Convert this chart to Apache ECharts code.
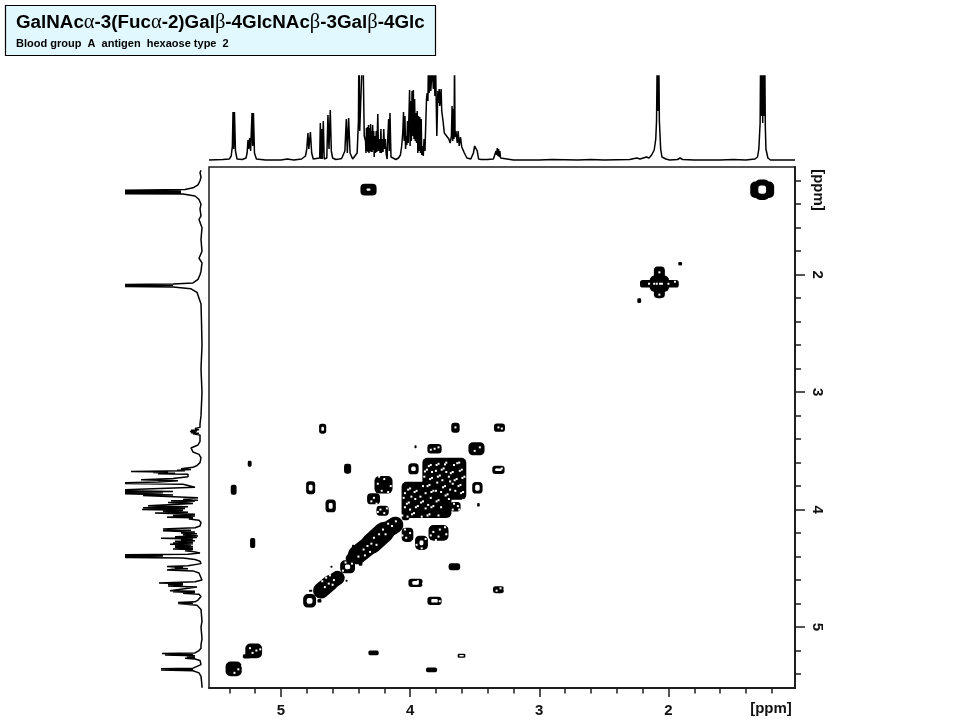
<!DOCTYPE html>
<html>
<head>
<meta charset="utf-8">
<style>html,body{margin:0;padding:0;background:#fff}#c{width:960px;height:720px}</style>
<script src="https://cdn.jsdelivr.net/npm/echarts@6/dist/echarts.min.js"></script>
</head>
<body>
<div id="c"></div>
<script>
const titleParts = ['GalNAc','α','-3(Fuc','α','-2)Gal','β','-4GlcNAc','β','-3Gal','β','-4Glc'];
const subtitleText = 'Blood group  A  antigen  hexaose type  2';
const unitLabel = '[ppm]';

// axis ranges (ppm)
const f2Range = [1.02, 5.557];
const f1Range = [1.083, 5.519];
const f2MajorTicks = [5, 4, 3, 2];
const f2MinorTicks = [5.4,5.2,4.8,4.6,4.4,4.2,3.8,3.6,3.4,3.2,2.8,2.6,2.4,2.2,1.8,1.6,1.4,1.2];
const f1MajorTicks = [2, 3, 4, 5];
const f1MinorTicks = [1.2,1.4,1.6,1.8,2.2,2.4,2.6,2.8,3.2,3.4,3.6,3.8,4.2,4.4,4.6,4.8,5.2,5.4];

// F2 projection: [ppm, intensity]
const topSpectrum = [
[5.557,1],[5.45,1.5],[5.40,2],[5.385,5],[5.376,15],[5.371,49],[5.366,12],[5.360,49],[5.352,10],[5.34,2],[5.30,1.5],[5.27,3],[5.262,8],[5.255,21],[5.250,12],[5.242,23],[5.235,10],[5.224,48],[5.219,15],[5.213,48],[5.205,8],[5.19,2],[5.12,1],[5.0,1],[4.95,2],[4.90,1],[4.84,2],[4.81,5],
[4.80,12],[4.791,28],[4.784,12],[4.772,29],[4.762,8],[4.75,2],[4.735,1.5],[4.70,3],[4.695,38],[4.69,2],[4.685,32],[4.68,2],[4.672,40],[4.665,2],[4.655,1],[4.645,3],[4.636,46],[4.628,12],[4.618,51],[4.61,10],[4.60,3],[4.575,1.5],[4.55,2],[4.53,2.5],
[4.505,10],[4.494,42],[4.486,8],[4.476,43],[4.465,8],[4.445,2],[4.43,1.5],[4.41,8],[4.40,40],[4.396,120],[4.39,30],[4.38,30],[4.366,120],[4.355,25],
[4.345,20],[4.342,8],[4.338,33],[4.334,10],[4.330,34],[4.326,9],[4.322,36],[4.318,8],[4.314,33],[4.310,10],[4.306,37],[4.302,9],[4.298,30],[4.294,9],[4.290,36],[4.286,11],[4.282,30],[4.278,4],[4.274,25],[4.268,8],[4.262,30],[4.258,9],[4.250,47],[4.245,10],[4.238,22],[4.232,8],[4.226,32],[4.222,8],[4.216,22],[4.21,9],[4.204,32],[4.198,12],[4.192,22],[4.185,7],[4.178,2],
[4.174,20],[4.166,42],[4.161,10],[4.156,48],[4.148,4],[4.135,2],[4.11,1.5],[4.09,3],[4.075,6],[4.065,15],[4.056,30],[4.051,49],[4.046,20],[4.04,45],[4.035,12],[4.03,25],[4.025,16],[4.02,40],[4.015,18],[4.008,50],[4.004,71],[4.0,15],[3.995,60],[3.99,20],[3.985,70],[3.98,25],[3.975,71],[3.97,22],[3.965,62],[3.96,20],[3.955,48],[3.95,18],[3.945,50],[3.94,8],[3.935,45],[3.93,10],[3.925,44],[3.92,8],[3.914,42],[3.91,6],[3.905,15],[3.898,5],
[3.892,22],[3.885,10],[3.878,40],[3.873,62],[3.868,68],[3.862,60],[3.858,100],[3.852,68],[3.847,100],[3.84,70],[3.835,80],[3.83,100],[3.82,72],[3.813,100],[3.808,65],[3.803,100],[3.798,60],[3.793,25],[3.785,70],[3.78,58],[3.775,72],[3.77,55],[3.76,72],[3.755,50],[3.745,40],[3.735,28],[3.70,22],[3.69,18],[3.68,25],[3.675,55],[3.670,20],[3.665,52],[3.66,22],[3.656,100],[3.652,24],[3.645,30],[3.635,18],[3.628,30],[3.62,15],[3.61,24],[3.60,14],[3.59,16],[3.58,8],[3.57,6],[3.56,3],
[3.53,2],[3.52,3],[3.51,8],[3.50,15],[3.495,17],[3.488,16],[3.48,10],[3.47,2],[3.45,1.5],[3.40,1.5],[3.355,2],[3.34,3],[3.335,10],[3.33,6],[3.325,13],[3.32,5],[3.315,12],[3.31,4],[3.305,10],[3.30,3],[3.29,2],[3.2,1],[3.0,1],[2.9,1.5],[2.7,1],[2.6,1.5],[2.5,1],[2.3,1.5],[2.245,3],[2.22,2],[2.17,4],[2.15,3],[2.13,6],[2.11,11],[2.098,22],[2.092,40],[2.085,125],[2.08,50],[2.076,125],[2.07,40],[2.06,12],[2.05,4],[2.02,2],[1.99,1],[1.93,1.5],[1.91,3],[1.89,1.5],[1.8,1],[1.6,1],[1.5,1.5],[1.4,1],[1.33,2],[1.31,4],[1.30,12],[1.29,38],
[1.285,125],[1.282,45],[1.279,125],[1.276,45],[1.273,125],[1.27,38],[1.267,125],[1.264,45],[1.261,125],[1.258,45],[1.255,125],[1.25,35],[1.245,12],[1.23,3],[1.21,1],[1.1,1],[1.02,1]
];

// F1 projection: [intensity, ppm]
const leftSpectrum = [
[2,1.11],[3,1.13],[2,1.17],[3,1.2],[5,1.235],[10,1.26],[18,1.275],[20,1.28],[100,1.282],[22,1.285],[100,1.288],[22,1.291],[100,1.294],[22,1.297],[100,1.30],[22,1.303],[100,1.306],[22,1.308],[100,1.31],[20,1.312],[8,1.33],[4,1.36],[2,1.4],[3,1.44],[2,1.5],[4,1.53],[1,1.6],[2,1.7],[1,1.8],[4,1.86],[1,1.9],[2,1.97],[3,2.0],[5,2.04],[10,2.07],[30,2.08],[100,2.085],[30,2.09],[100,2.098],[30,2.105],[12,2.12],[6,2.15],[4,2.2],[2,2.25],[1.5,2.4],[1,2.6],[2,2.8],[1,3.0],[2,3.2],[3,3.27],[3,3.3],
[8,3.31],[4,3.32],[12,3.325],[6,3.33],[13,3.335],[7,3.34],[12,3.345],[4,3.35],[10,3.355],[3,3.365],[2,3.38],[3,3.42],[5,3.45],[12,3.475],[13,3.49],[10,3.51],[4,3.53],[2,3.56],[3,3.6],[6,3.625],[10,3.64],[22,3.652],[12,3.658],[26,3.665],[18,3.67],[72,3.675],[35,3.68],[50,3.685],[28,3.69],[45,3.695],[15,3.70],[15,3.72],[30,3.735],[62,3.746],[25,3.755],[45,3.765],[100,3.775],[100,3.778],[20,3.785],[22,3.797],[8,3.81],[6,3.825],[100,3.838],[30,3.845],[100,3.85],[40,3.856],[100,3.862],[100,3.866],[30,3.875],[60,3.88],[5,3.90],
[20,3.915],[5,3.92],[32,3.925],[8,3.93],[35,3.94],[10,3.948],[25,3.955],[55,3.968],[15,3.975],[60,3.985],[18,3.99],[61,4.0],[20,4.005],[40,4.015],[15,4.022],[48,4.03],[8,4.04],[30,4.05],[8,4.055],[36,4.065],[10,4.07],[14,4.08],[4,4.09],[2,4.11],[3,4.14],[8,4.155],[40,4.166],[12,4.175],[40,4.18],[8,4.19],[22,4.2],[6,4.205],[20,4.215],[5,4.225],[28,4.232],[6,4.238],[42,4.243],[10,4.25],[22,4.26],[8,4.265],[28,4.27],[10,4.278],[30,4.285],[10,4.29],[33,4.295],[12,4.30],[28,4.31],[10,4.315],[28,4.32],[10,4.33],[30,4.335],[10,4.34],[18,4.35],[8,4.36],[3,4.37],[15,4.38],[100,4.386],[40,4.395],[100,4.405],[20,4.412],[8,4.425],[3,4.44],[2,4.46],[3,4.47],[15,4.478],[36,4.485],[20,4.492],[28,4.498],[15,4.503],[30,4.508],[36,4.515],[10,4.522],[4,4.54],[2,4.58],[1,4.6],[3,4.61],[8,4.615],[44,4.625],[20,4.63],[35,4.635],[20,4.64],[35,4.65],[6,4.66],[4,4.675],[33,4.69],[8,4.695],[30,4.70],[8,4.705],[20,4.712],[4,4.72],[2,4.74],[5,4.77],[8,4.785],[25,4.79],[25,4.793],[10,4.797],[25,4.80],[25,4.805],[6,4.815],[2,4.85],[1,4.95],[2,5.0],[1,5.1],[2,5.15],[2,5.18],[4,5.20],[8,5.22],[41,5.225],[10,5.232],[38,5.237],[8,5.245],[16,5.255],[8,5.26],[18,5.265],[8,5.272],[3,5.285],[2,5.32],[4,5.335],[10,5.35],[42,5.355],[10,5.362],[42,5.365],[10,5.372],[4,5.39],[2,5.42],[1,5.5],[1,5.517]
];

// Diagonal ridge: [F2 start, F1 start, F2 end, F1 end, F1 thickness]
const diagonalRidges = [
[4.115,4.13,4.20,4.19,0.14],[4.20,4.19,4.30,4.29,0.175],[4.30,4.29,4.41,4.385,0.16],[4.41,4.385,4.46,4.415,0.085],
[4.561,4.581,4.62,4.625,0.12],[4.62,4.625,4.69,4.69,0.135]
];
// Contour extents: [F2 ppm, F1 ppm, F2 extent, F1 extent]
const crossPeaks = [
[4.322,1.276,0.125,0.10],[1.274,1.276,0.185,0.14],[1.274,1.276,0.11,0.175],
[2.07,2.077,0.30,0.065],[2.07,2.065,0.085,0.27],[2.07,2.077,0.15,0.14],[1.909,1.906,0.03,0.03],[2.226,2.221,0.03,0.04],
[4.677,3.312,0.055,0.085],[3.649,3.303,0.065,0.085],[3.308,3.303,0.085,0.07],[3.811,3.482,0.11,0.08],[3.486,3.482,0.125,0.11],[3.958,3.465,0.016,0.025],[5.242,3.61,0.03,0.05],[4.484,3.652,0.055,0.085],[3.974,3.652,0.08,0.095],[3.316,3.661,0.095,0.07],
[4.206,3.789,0.14,0.15],[4.77,3.814,0.07,0.11],[5.366,3.831,0.045,0.085],[3.479,3.814,0.08,0.10],[4.283,3.908,0.10,0.095],[4.615,3.968,0.08,0.11],[4.213,4.01,0.095,0.085],[3.649,3.976,0.08,0.08],[3.471,3.959,0.02,0.03],
[3.735,3.738,0.34,0.358],[3.873,3.917,0.386,0.307],[4.035,4.065,0.06,0.05],
[5.219,4.285,0.04,0.085],[3.78,4.198,0.155,0.135],[3.912,4.283,0.10,0.12],[4.02,4.215,0.09,0.12],
[4.484,4.487,0.115,0.11],[4.384,4.453,0.03,0.05],[4.702,4.777,0.03,0.03],[4.609,4.487,0.016,0.017],[4.492,4.606,0.016,0.017],[4.77,4.692,0.025,0.017],[4.27,4.21,0.04,0.04],[4.44,4.33,0.02,0.06],
[3.657,4.487,0.09,0.06],[3.958,4.624,0.11,0.07],[3.811,4.777,0.11,0.07],[3.316,4.683,0.085,0.06],[4.778,4.777,0.10,0.115],
[5.211,5.203,0.13,0.125],[5.265,5.25,0.06,0.035],[5.366,5.356,0.125,0.125],[4.283,5.22,0.08,0.04],[3.834,5.365,0.085,0.04],[3.602,5.245,0.06,0.035]
];
// Contour openings: [F2 ppm, F1 ppm, F2 extent, F1 extent]
const contourHoles = [
[4.322,1.276,0.03,0.02],[1.274,1.276,0.06,0.07],[4.677,3.312,0.02,0.035],[3.974,3.652,0.035,0.04],[4.77,3.814,0.03,0.05],[3.479,3.814,0.035,0.05],[4.615,3.968,0.03,0.05],[4.778,4.777,0.045,0.05],[4.484,4.487,0.04,0.04],[3.958,4.624,0.05,0.03],[3.811,4.777,0.05,0.03],[3.912,4.283,0.03,0.04],[3.602,5.245,0.035,0.012],[3.316,3.661,0.05,0.02]
];
// small gaps inside overlapping contours: [F2 ppm, F1 ppm]
const contourGaps = [
[2.11,2.077],[2.09,2.077],[2.065,2.077],[2.05,2.077],[2.15,2.077],[2.0,2.077],[2.07,1.98],[2.07,2.17],[1.95,2.06],
[3.81,3.482],[3.84,3.49],[3.78,3.47],[3.649,3.30],[3.316,3.30],[3.29,3.31],[3.46,3.47],[3.50,3.50],[3.33,3.66],[3.29,3.65],
[4.25,3.78],[4.20,3.74],[4.15,3.80],[4.22,3.84],[4.17,3.85],[4.24,3.72],[4.28,3.90],[4.30,3.93],[4.26,3.95],[4.23,4.0],[4.20,4.03],[4.18,3.99],[4.25,4.02],
[3.62,3.60],[3.66,3.62],[3.72,3.60],[3.78,3.61],[3.84,3.62],[3.60,3.66],[3.67,3.68],[3.74,3.65],[3.80,3.67],[3.87,3.66],[3.58,3.72],[3.64,3.74],[3.70,3.72],[3.77,3.71],[3.83,3.73],[3.89,3.72],[3.61,3.79],[3.67,3.78],[3.73,3.80],[3.79,3.77],[3.85,3.79],[3.90,3.80],[3.59,3.85],[3.65,3.84],[3.71,3.87],[3.76,3.85],[3.82,3.84],[3.88,3.86],[3.95,3.84],[4.0,3.82],[4.04,3.86],[3.70,3.91],[3.78,3.92],[3.84,3.90],[3.90,3.93],[3.96,3.91],[4.01,3.94],[4.05,3.90],[3.76,3.98],[3.82,3.97],[3.88,3.99],[3.94,3.97],[4.0,4.0],[4.04,3.98],[3.78,4.05],[3.85,4.04],[3.91,4.06],[3.97,4.03],[4.02,4.06],[4.06,4.05],[3.66,3.95],[3.62,4.0],[3.67,4.0],[3.63,3.97],[3.59,3.92],[3.59,3.97],
[3.635,3.605],[3.73,3.615],[3.795,3.62],[3.855,3.63],[3.615,3.67],[3.685,3.69],[3.755,3.66],[3.885,3.675],[3.595,3.73],[3.655,3.75],[3.785,3.72],[3.845,3.74],[3.625,3.80],[3.745,3.81],[3.865,3.80],[3.605,3.86],[3.725,3.88],[3.835,3.85],[3.965,3.85],[4.015,3.83],[3.795,3.93],[3.915,3.94],[4.025,3.95],[3.835,3.98],[3.955,3.98],[3.865,4.05],[3.985,4.04],[3.69,3.83],[3.80,3.84],[3.92,3.89],[3.99,3.89],[3.75,3.75],[3.69,3.76],[3.86,3.96],[3.72,3.68],[3.83,3.68],
[3.73,4.15],[3.77,4.17],[3.82,4.19],[3.72,4.21],[3.78,4.23],[3.84,4.22],[3.80,4.26],[3.88,4.25],[3.95,4.30],[3.91,4.33],[4.04,4.17],[4.0,4.20],[4.03,4.24],[3.98,4.27],[4.01,4.29],[4.06,4.22],
[4.11,4.10],[4.14,4.14],[4.17,4.12],[4.21,4.17],[4.24,4.21],[4.19,4.21],[4.28,4.24],[4.30,4.29],[4.26,4.30],[4.33,4.31],[4.36,4.34],[4.35,4.39],[4.40,4.40],[4.31,4.36],
[4.62,4.56],[4.59,4.60],[4.63,4.63],[4.66,4.66],[4.60,4.64],[4.68,4.61],[4.65,4.58],[4.45,4.46],[4.52,4.52],[4.50,4.45],
[5.19,5.20],[5.16,5.19],[5.22,5.22],[5.24,5.18],[5.33,5.36],[5.30,5.33],[5.36,5.39],
[3.94,4.61],[3.90,4.63],[3.77,4.78],[3.27,4.68],[3.33,4.69],[3.30,4.67]
];

const F = '"Liberation Sans", Arial, sans-serif';
const AXC = '#1c1c1c';
const box = {left:209, top:167, width:586, height:521};

const rich = {
  t:{fontFamily:F,fontWeight:'bold',fontSize:18.8,color:'#000'},
  g:{fontFamily:'"Liberation Serif", serif',fontWeight:'normal',fontSize:20.5,color:'#000'}
};
const titleRich = titleParts.map(p => (/^[αβ]$/.test(p) ? '{g|' : '{t|') + p + '}').join('');

function frameAxis(extra){
  return Object.assign({type:'value',gridIndex:0,inverse:false,
    axisLine:{show:true,onZero:false,lineStyle:{color:AXC,width:1.5}},
    splitLine:{show:false},minorTick:{show:false}},extra);
}
function hiddenAxis(extra){
  return Object.assign({type:'value',show:false,splitLine:{show:false}},extra);
}
function rectItem(params,api){
  const c = api.coord([api.value(0),api.value(1)]);
  const s = api.size([api.value(2),api.value(3)]);
  return {type:'rect',shape:{x:c[0]-s[0]/2,y:c[1]-s[1]/2,width:s[0],height:s[1],r:Math.min(Math.min(s[0],s[1])*0.35,5)},
    style:{fill:api.style().fill}};
}
function gapItem(params,api){
  const c = api.coord([api.value(0),api.value(1)]);
  return {type:'rect',shape:{x:c[0]-1,y:c[1]-1,width:2,height:2},style:{fill:'#fff'}};
}
function ridgeItem(params,api){
  const a = api.coord([api.value(0),api.value(1)]);
  const b = api.coord([api.value(2),api.value(3)]);
  const w = api.size([0,api.value(4)])[1];
  return {type:'line',shape:{x1:a[0],y1:a[1],x2:b[0],y2:b[1]},style:{stroke:'#000',lineWidth:w,lineCap:'round',fill:null}};
}

const chart = echarts.init(document.getElementById('c'),null,{renderer:'canvas'});
chart.setOption({
  animation:false,
  backgroundColor:'#fff',
  title:{
    text:titleRich,subtext:subtitleText,left:5,top:5,
    padding:[7,11,7,11],itemGap:5,
    backgroundColor:'#e1f9fe',borderColor:'#000',borderWidth:1.2,
    textStyle:{rich:rich,fontFamily:F,fontWeight:'bold',fontSize:18.8,color:'#000'},
    subtextStyle:{fontFamily:F,fontWeight:'bold',fontSize:11,color:'#000'}
  },
  grid:[
    Object.assign({show:true,borderColor:AXC,borderWidth:1.5,backgroundColor:'transparent'},box),
    {left:box.left,top:76,width:box.width,height:85},
    {left:126,top:box.top,width:77,height:box.height}
  ],
  xAxis:[
    frameAxis({position:'bottom',min:f2Range[0],max:f2Range[1],inverse:true,
      axisTick:{show:true,length:9,customValues:f2MajorTicks,lineStyle:{color:AXC,width:1.5}},
      axisLabel:{show:true,customValues:f2MajorTicks,margin:15,fontFamily:F,fontWeight:'bold',fontSize:15,color:'#111'}}),
    frameAxis({position:'bottom',min:f2Range[0],max:f2Range[1],inverse:true,
      axisTick:{show:true,length:5.5,customValues:f2MinorTicks,lineStyle:{color:AXC,width:1.5}},
      axisLabel:{show:false}}),
    hiddenAxis({gridIndex:1,min:f2Range[0],max:f2Range[1],inverse:true}),
    hiddenAxis({gridIndex:2,min:0,max:77,inverse:true})
  ],
  yAxis:[
    frameAxis({position:'right',min:f1Range[0],max:f1Range[1],inverse:true,
      axisTick:{show:true,length:10,customValues:f1MajorTicks,lineStyle:{color:AXC,width:1.5}},
      axisLabel:{show:true,customValues:f1MajorTicks,margin:22,rotate:-90,fontFamily:F,fontWeight:'bold',fontSize:15,color:'#111',align:'center',verticalAlign:'middle'}}),
    frameAxis({position:'right',min:f1Range[0],max:f1Range[1],inverse:true,
      axisTick:{show:true,length:6,customValues:f1MinorTicks,lineStyle:{color:AXC,width:1.5}},
      axisLabel:{show:false}}),
    hiddenAxis({gridIndex:1,min:0,max:85}),
    hiddenAxis({gridIndex:2,min:f1Range[0],max:f1Range[1],inverse:true})
  ],
  series:[
    {type:'custom',name:'diagonal',coordinateSystem:'cartesian2d',xAxisIndex:0,yAxisIndex:0,clip:true,silent:true,
      renderItem:ridgeItem,encode:{x:[0,2],y:[1,3]},data:diagonalRidges},
    {type:'custom',name:'contours',coordinateSystem:'cartesian2d',xAxisIndex:0,yAxisIndex:0,clip:true,silent:true,
      itemStyle:{color:'#000'},renderItem:rectItem,encode:{x:0,y:1},data:crossPeaks},
    {type:'custom',name:'openings',coordinateSystem:'cartesian2d',xAxisIndex:0,yAxisIndex:0,clip:true,silent:true,
      itemStyle:{color:'#fff'},renderItem:rectItem,encode:{x:0,y:1},data:contourHoles},
    {type:'custom',name:'gaps',coordinateSystem:'cartesian2d',xAxisIndex:0,yAxisIndex:0,clip:true,silent:true,
      renderItem:gapItem,encode:{x:0,y:1},data:contourGaps},
    {type:'line',name:'F2 projection',xAxisIndex:2,yAxisIndex:2,data:topSpectrum,showSymbol:false,symbol:'none',clip:true,silent:true,
      lineStyle:{color:'#000',width:1.5}},
    {type:'line',name:'F1 projection',xAxisIndex:3,yAxisIndex:3,data:leftSpectrum,showSymbol:false,symbol:'none',clip:true,silent:true,
      lineStyle:{color:'#000',width:1.5}}
  ],
  graphic:[
    {type:'text',x:771,y:709,style:{text:unitLabel,fontFamily:F,fontWeight:'bold',fontSize:15,fill:'#111',align:'center',verticalAlign:'middle'}},
    {type:'text',x:818,y:190,rotation:-Math.PI/2,style:{text:unitLabel,fontFamily:F,fontWeight:'bold',fontSize:15,fill:'#111',align:'center',verticalAlign:'middle'}}
  ]
});
</script>
</body>
</html>
